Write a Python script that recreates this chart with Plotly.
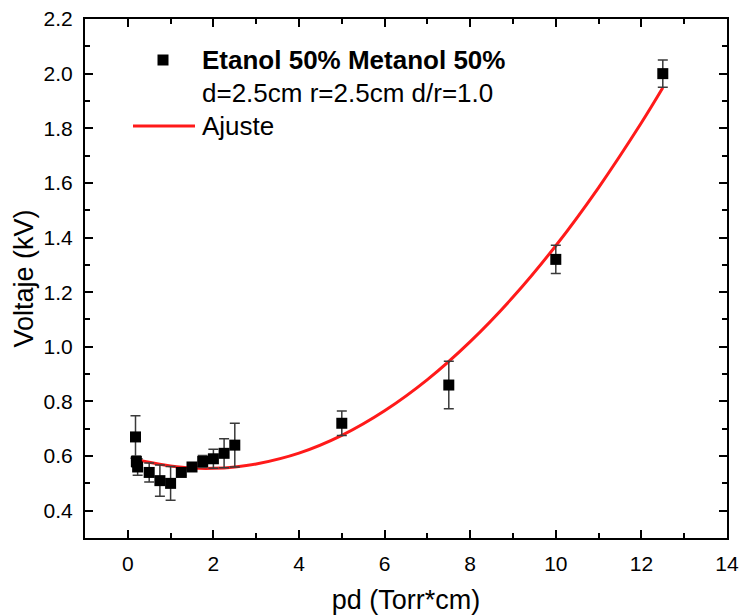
import plotly.graph_objects as go

# Breakdown voltage measurements (Etanol 50% / Metanol 50%)
pd_values = [0.18, 0.2, 0.23, 0.5, 0.75, 1.0, 1.25, 1.5, 1.75, 2.0, 2.25, 2.5, 5.0, 7.5, 10.0, 12.5]
voltage_kv = [0.67, 0.58, 0.56, 0.54, 0.51, 0.50, 0.54, 0.56, 0.58, 0.59, 0.61, 0.64, 0.72, 0.86, 1.32, 2.00]
voltage_err = [0.078, 0.02, 0.03, 0.035, 0.057, 0.062, 0.01, 0.01, 0.022, 0.035, 0.053, 0.08, 0.045, 0.087, 0.052, 0.05]

# Fitted curve ("Ajuste") sampled along pd
fit_pd = [0.2, 0.5, 1, 1.5, 2, 2.5, 3, 4, 5, 6, 7, 8, 9, 10, 11, 12, 12.5]
fit_kv = [0.588, 0.577, 0.564, 0.556, 0.555, 0.560, 0.571, 0.611, 0.676, 0.766, 0.880, 1.019, 1.182,
          1.370, 1.583, 1.820, 1.948]

x_ticks = [0, 2, 4, 6, 8, 10, 12, 14]
y_ticks = [0.4, 0.6, 0.8, 1.0, 1.2, 1.4, 1.6, 1.8, 2.0, 2.2]

FONT = "Arial, Liberation Sans, sans-serif"
W, H = 740, 615
ML, MR, MT, MB = 85, 13, 19, 77
PW, PH = W - ML - MR, H - MT - MB


def px(xp):
    return (xp - ML) / PW


def py(yp):
    return (H - MB - yp) / PH


fig = go.Figure()

fig.add_trace(go.Scatter(
    x=fit_pd, y=fit_kv, mode="lines", line=dict(color="#ff1a1a", width=3, shape="spline"),
    hoverinfo="skip", showlegend=False,
))

fig.add_trace(go.Scatter(
    x=pd_values, y=voltage_kv, mode="markers",
    marker=dict(symbol="square", size=11, color="black"),
    error_y=dict(type="data", array=voltage_err, visible=True, color="#3a3a3a", thickness=1.5, width=5),
    showlegend=False,
))

axis_common = dict(
    showline=True, linecolor="black", linewidth=2, mirror="allticks",
    ticks="inside", ticklen=8, tickwidth=1.5, tickcolor="black",
    showgrid=False, zeroline=False, automargin=False,
    tickfont=dict(family=FONT, size=21, color="black"),
)

fig.update_xaxes(
    range=[-1, 14], tickvals=x_ticks, ticktext=[str(v) for v in x_ticks],
    minor=dict(ticks="inside", ticklen=5, tickwidth=1.5, tickcolor="black", dtick=1, tick0=0),
    title=dict(text="pd (Torr*cm)", font=dict(family=FONT, size=27, color="black"), standoff=18),
    ticklabelstandoff=6,
    **axis_common,
)
fig.update_yaxes(
    range=[0.3, 2.2], tickvals=y_ticks, ticktext=[f"{v:.1f}" for v in y_ticks],
    minor=dict(ticks="inside", ticklen=5, tickwidth=1.5, tickcolor="black", dtick=0.1, tick0=0),
    title=dict(text="Voltaje (kV)", font=dict(family=FONT, size=27, color="black"), standoff=2),
    ticklabelstandoff=6,
    **axis_common,
)

# Hand-placed legend block
fig.add_shape(type="rect", xref="paper", yref="paper", xsizemode="pixel", ysizemode="pixel",
              xanchor=px(163), yanchor=py(60), x0=-5.5, x1=5.5, y0=-5.5, y1=5.5,
              fillcolor="black", line=dict(width=0))
fig.add_shape(type="line", xref="paper", yref="paper", x0=px(133), x1=px(195), y0=py(126), y1=py(126),
              line=dict(color="#ff1a1a", width=3))

legend_lines = [
    ("<b>Etanol 50% Metanol 50%</b>", 60),
    ("d=2.5cm r=2.5cm d/r=1.0", 93),
    ("Ajuste", 126),
]
for text, ypix in legend_lines:
    fig.add_annotation(text=text, xref="paper", yref="paper", x=px(200), y=py(ypix),
                       xanchor="left", yanchor="middle", showarrow=False,
                       font=dict(family=FONT, size=26, color="black"))

fig.update_layout(
    width=W, height=H,
    margin=dict(l=ML, r=MR, t=MT, b=MB),
    paper_bgcolor="white", plot_bgcolor="white",
)

fig.write_html("out.html")
